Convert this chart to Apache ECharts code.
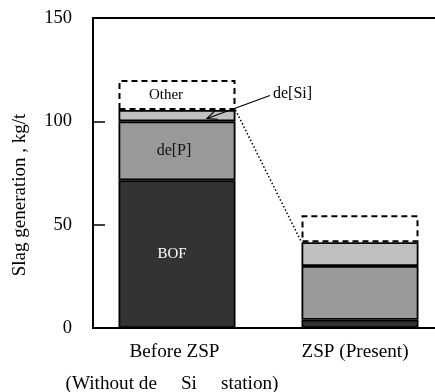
<!DOCTYPE html>
<html>
<head>
<meta charset="utf-8">
<script src="https://cdn.jsdelivr.net/npm/echarts@6/dist/echarts.min.js"></script>
<style>html,body{margin:0;padding:0;background:#fff;}#c{width:435px;height:392px;}</style>
</head>
<body>
<div id="c"></div>
<script>
const categories = ['Before ZSP', 'ZSP (Present)'];
const subLabel = '(Without de     Si     station)';
const bofValues = [71.5, 4];
const dePValues = [28.5, 26];
const deSiValues = [5.5, 11.5];
const otherValues = [14.5, 13];
const yTicks = [0, 50, 100, 150];

const FONT = 'Liberation Serif';
const BAR_W = 117;
const chart = echarts.init(document.getElementById('c'), null, {renderer: 'canvas'});

function mkSeries(name, values, color, labelOpt, extra) {
  return Object.assign({
    name: name,
    type: 'bar',
    stack: 'total',
    barWidth: BAR_W,
    xAxisIndex: 0,
    yAxisIndex: 0,
    data: values,
    itemStyle: {color: color, borderColor: '#000', borderWidth: 1.8},
    label: Object.assign({
      show: true,
      position: 'inside',
      fontFamily: FONT,
      formatter: p => p.dataIndex === 0 ? name : ''
    }, labelOpt),
    emphasis: {disabled: true},
    animation: false
  }, extra || {});
}

const yMin = yTicks[0], yMax = yTicks[yTicks.length - 1];
const catStyle = {fontFamily: FONT, fontSize: 19.2, color: '#000', lineHeight: 32};

const option = {
  animation: false,
  grid: [
    {left: 85.5, right: -16.5, top: 18, bottom: 64, outerBoundsMode: 'none', containLabel: false},
    {left: 93, right: -10, top: 18, bottom: 64, outerBoundsMode: 'none', containLabel: false,
      show: true, borderColor: '#000', borderWidth: 2, backgroundColor: 'transparent'}
  ],
  xAxis: [
    {
      gridIndex: 0,
      type: 'category',
      data: categories,
      axisLine: {show: false},
      axisTick: {show: false},
      splitLine: {show: false},
      axisLabel: {
        interval: 0,
        hideOverlap: false,
        formatter: v => (v === categories[0] ? '{a|' + v + '}\n{s|' + subLabel + '}' : '{b|' + v + '}'),
        fontFamily: FONT,
        fontSize: 19.2,
        color: '#000',
        lineHeight: 32,
        margin: 8,
        verticalAlign: 'top',
        rich: {
          a: Object.assign({padding: [0, 5, 0, 0]}, catStyle),
          s: Object.assign({padding: [0, 10, 0, 0]}, catStyle),
          b: Object.assign({padding: [0, 10, 0, 0]}, catStyle)
        }
      }
    },
    {gridIndex: 1, type: 'value', min: 0, max: 1, show: false}
  ],
  yAxis: [
    {gridIndex: 0, type: 'value', min: yMin, max: yMax, show: false},
    {
      gridIndex: 1,
      type: 'value',
      min: yMin,
      max: yMax,
      interval: 50,
      axisLine: {show: false, onZero: false},
      axisTick: {show: true, inside: true, length: 12, lineStyle: {color: '#000', width: 1.5}},
      splitLine: {show: false},
      axisLabel: {fontFamily: FONT, fontSize: 18.5, color: '#000', margin: 21}
    }
  ],
  series: [
    mkSeries('BOF', bofValues, '#333333', {color: '#fff', fontSize: 15, offset: [-5, 0]}),
    mkSeries('de[P]', dePValues, '#999999', {color: '#111', fontSize: 16, offset: [-3, 0]}),
    mkSeries('de[Si]', deSiValues, '#c0c0c0', {show: false}),
    mkSeries('Other', otherValues, 'rgba(0,0,0,0)', {color: '#000', fontSize: 15, offset: [-11, 0]},
      {itemStyle: {color: 'rgba(0,0,0,0)', borderColor: '#000', borderWidth: 2, borderType: [6, 4]}})
  ]
};
chart.setOption(option);

// connector + annotation derived from the data via the axes
const top0 = bofValues[0] + dePValues[0] + deSiValues[0];
const top1 = bofValues[1] + dePValues[1] + deSiValues[1];
const p0 = chart.convertToPixel({xAxisIndex: 0, yAxisIndex: 0}, [0, top0]);
const p1 = chart.convertToPixel({xAxisIndex: 0, yAxisIndex: 0}, [1, top1]);
const head = chart.convertToPixel({xAxisIndex: 0, yAxisIndex: 0}, [0, bofValues[0] + dePValues[0] + deSiValues[0] * 0.25]);
const hx = head[0] + 30, hy = head[1];
const tx = hx + 63, ty = hy - 23;
const ang = Math.atan2(ty - hy, tx - hx);
const aL = 11, spread = 0.42;
const a1 = [hx + aL * Math.cos(ang + spread), hy + aL * Math.sin(ang + spread)];
const a2 = [hx + aL * Math.cos(ang - spread), hy + aL * Math.sin(ang - spread)];

chart.setOption({
  graphic: [
    {type: 'line', z: 100, shape: {x1: p0[0] + BAR_W / 2, y1: p0[1], x2: p1[0] - BAR_W / 2, y2: p1[1]},
      style: {stroke: '#000', lineWidth: 1.5, lineDash: [1.5, 2.2]}},
    {type: 'line', z: 100, shape: {x1: tx, y1: ty, x2: hx, y2: hy}, style: {stroke: '#000', lineWidth: 1.2}},
    {type: 'polyline', z: 100, shape: {points: [a1, [hx, hy], a2]}, style: {stroke: '#000', lineWidth: 1.2, fill: null}},
    {type: 'text', z: 100, x: tx + 3, y: ty - 2, style: {text: 'de[Si]', font: '16px "Liberation Serif"', fill: '#000', textAlign: 'left', textVerticalAlign: 'middle'}},
    {type: 'text', z: 100, x: 20, y: 195, rotation: Math.PI / 2,
      style: {text: 'Slag generation , kg/t', font: '19px "Liberation Serif"', fill: '#000', textAlign: 'center', textVerticalAlign: 'middle'}}
  ]
});
</script>
</body>
</html>
